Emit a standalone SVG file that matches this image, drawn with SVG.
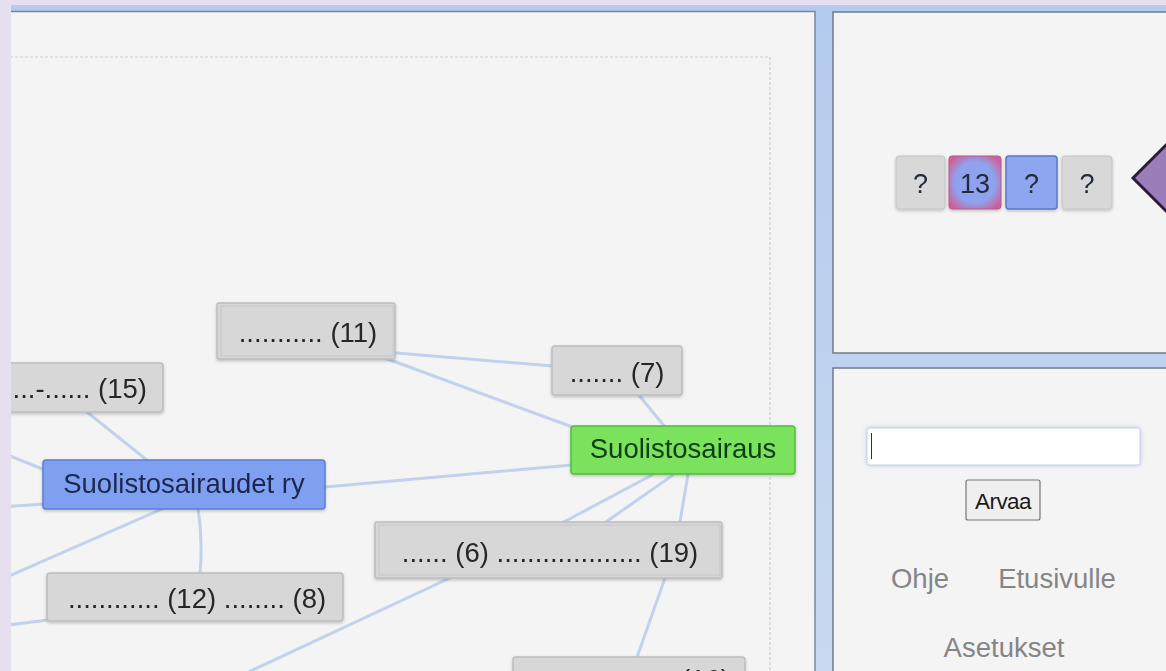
<svg xmlns="http://www.w3.org/2000/svg" width="1166" height="671" viewBox="0 0 1166 671">
<style>
.edge{stroke:#c1d2ec;stroke-width:3;fill:none;stroke-linecap:round}
.gray{fill:#d7d7d7;stroke:#bdbdbd;stroke-width:1.5}
.lbl{font-family:"Liberation Sans",Arial,sans-serif;font-size:27.5px}
.dark{fill:#262626}
.link{font-family:"Liberation Sans",Arial,sans-serif;font-size:27.5px;fill:#858585;text-anchor:middle}
.tile{font-family:"Liberation Sans",Arial,sans-serif;font-size:27px;text-anchor:middle;fill:#222a3a}
</style>
<defs>
<filter id="sh" x="-10%" y="-20%" width="120%" height="150%">
<feDropShadow dx="0" dy="1.5" stdDeviation="1.5" flood-color="#000" flood-opacity="0.22"/>
</filter>
<filter id="glow" x="-10%" y="-30%" width="120%" height="160%">
<feDropShadow dx="0" dy="0" stdDeviation="2.5" flood-color="#9bb4dd" flood-opacity="0.6"/>
</filter>
<radialGradient id="pinkblue" cx="50%" cy="50%" r="62%">
<stop offset="62%" stop-color="#8fa2ee"/>
<stop offset="100%" stop-color="#cf5f96"/>
</radialGradient>
<linearGradient id="frame" x1="0" y1="0" x2="0" y2="1">
<stop offset="0" stop-color="#b3cbee"/>
<stop offset="1" stop-color="#c9d9f0"/>
</linearGradient>
<clipPath id="mainclip"><rect x="11" y="12" width="804" height="659"/></clipPath>
</defs>

<rect x="0" y="0" width="1166" height="671" fill="#e5dff0"/>
<rect x="11" y="5" width="1155" height="666" fill="url(#frame)"/>

<g id="main-panel">
<rect x="11" y="11" width="804" height="670" fill="#f4f4f5"/>
<path d="M11,11.5 H815 V671" fill="none" stroke="#7d8894" stroke-width="1.5"/>
</g>

<g clip-path="url(#mainclip)">
<rect x="-20" y="57" width="790" height="700" fill="none" stroke="#c9cedb" stroke-width="1.2" stroke-dasharray="3 2"/>

<g id="connectors">
<line class="edge" x1="385" y1="352" x2="553" y2="366"/>
<line class="edge" x1="385" y1="358" x2="575" y2="428"/>
<line class="edge" x1="638" y1="394" x2="665" y2="427"/>
<line class="edge" x1="325" y1="487" x2="572" y2="465"/>
<line class="edge" x1="652" y1="475" x2="560" y2="524"/>
<line class="edge" x1="673" y1="475" x2="603" y2="524"/>
<polyline class="edge" points="688,474 680,522 665,578 636,660"/>
<line class="edge" x1="452" y1="577" x2="240" y2="676"/>
<line class="edge" x1="87" y1="412" x2="148" y2="461"/>
<line class="edge" x1="0" y1="452" x2="45" y2="470"/>
<line class="edge" x1="0" y1="507" x2="45" y2="504"/>
<line class="edge" x1="162" y1="509" x2="0" y2="580"/>
<path class="edge" d="M198,508 Q203,540 200,574"/>
<line class="edge" x1="48" y1="620" x2="0" y2="626"/>
</g>

<g id="node-11" filter="url(#sh)">
<rect class="gray" x="217" y="303" width="178" height="56" rx="2"/>
<rect x="221" y="306" width="172" height="50" fill="none" stroke="#c6c6c6" stroke-width="1"/>
<text class="lbl dark" x="308" y="342" text-anchor="middle">........... (11)</text>
</g>

<g id="node-15" filter="url(#sh)">
<rect class="gray" x="-40" y="363" width="203" height="49" rx="3"/>
<text class="lbl dark" x="147" y="398" text-anchor="end">...-...... (15)</text>
</g>

<g id="node-suolistosairaudet" filter="url(#sh)">
<rect x="43" y="460" width="282" height="49" rx="3" fill="#7f9ff0" stroke="#5b7ed5" stroke-width="1.5"/>
<text class="lbl" x="184" y="493" text-anchor="middle" fill="#1c2850">Suolistosairaudet ry</text>
</g>

<g id="node-12-8" filter="url(#sh)">
<rect class="gray" x="47" y="573" width="296" height="48" rx="3"/>
<text class="lbl dark" x="197" y="608" text-anchor="middle">............ (12) ........ (8)</text>
</g>

<g id="node-7" filter="url(#sh)">
<rect class="gray" x="552" y="346" width="130" height="49" rx="3"/>
<text class="lbl dark" x="617" y="382" text-anchor="middle">....... (7)</text>
</g>

<g id="node-suolistosairaus" filter="url(#sh)">
<rect x="571" y="426" width="224" height="48" rx="3" fill="#7ae25c" stroke="#52bb3e" stroke-width="1.5"/>
<text class="lbl" x="683" y="458" text-anchor="middle" fill="#103d12">Suolistosairaus</text>
</g>

<g id="node-6-19" filter="url(#sh)">
<rect class="gray" x="375" y="522" width="347" height="56" rx="2"/>
<rect x="379" y="525" width="341" height="50" fill="none" stroke="#c6c6c6" stroke-width="1"/>
<text class="lbl dark" x="550" y="562" text-anchor="middle">...... (6) ................... (19)</text>
</g>

<g id="node-16" filter="url(#sh)">
<rect class="gray" x="513" y="657" width="232" height="50" rx="3"/>
<text class="lbl dark" x="730" y="689" text-anchor="end">............... (16)</text>
</g>
</g>

<g id="top-right-panel">
<rect x="833" y="12" width="345" height="341" fill="#f4f4f5" stroke="#6f7b88" stroke-width="1.5"/>
</g>

<g id="tile-1" filter="url(#sh)">
<rect x="896" y="156" width="49" height="53" rx="3" fill="#d8d8d8" stroke="#c4c4c4"/>
<text class="tile" x="920.5" y="193">?</text>
</g>
<g id="tile-2" filter="url(#sh)">
<rect x="949" y="156" width="52" height="53" rx="3" fill="url(#pinkblue)" stroke="#b25a8a"/>
<text class="tile" x="975" y="193">13</text>
</g>
<g id="tile-3" filter="url(#sh)">
<rect x="1006" y="156" width="51" height="53" rx="3" fill="#8ea5f0" stroke="#5878c8" stroke-width="1.5"/>
<text class="tile" x="1031.5" y="193">?</text>
</g>
<g id="tile-4" filter="url(#sh)">
<rect x="1062" y="156" width="50" height="53" rx="3" fill="#d8d8d8" stroke="#c4c4c4"/>
<text class="tile" x="1087" y="193">?</text>
</g>

<g id="pointer">
<polygon points="1133,178 1171,140 1209,178 1171,216" fill="#9b7db9" stroke="#2a1c38" stroke-width="3" stroke-linejoin="miter"/>
</g>

<g id="bottom-right-panel">
<rect x="833" y="368" width="345" height="320" fill="#f4f4f5" stroke="#6f7b88" stroke-width="1.5"/>
</g>

<g id="input" filter="url(#glow)">
<rect x="867" y="428" width="273" height="37" rx="2" fill="#ffffff" stroke="#c5d0e0"/>
<line x1="871.5" y1="433" x2="871.5" y2="459" stroke="#333" stroke-width="1"/>
</g>

<g id="button-arvaa">
<rect x="966" y="480" width="74" height="40" rx="2" fill="#efefef" stroke="#767676" stroke-width="1.2"/>
<text x="1003" y="509" text-anchor="middle" font-family="Liberation Sans, Arial, sans-serif" font-size="22.5" fill="#1a1a1a" letter-spacing="-0.6">Arvaa</text>
</g>

<g id="links">
<text class="link" x="920" y="588">Ohje</text>
<text class="link" x="1057" y="588">Etusivulle</text>
<text class="link" x="1004" y="657">Asetukset</text>
</g>
</svg>
